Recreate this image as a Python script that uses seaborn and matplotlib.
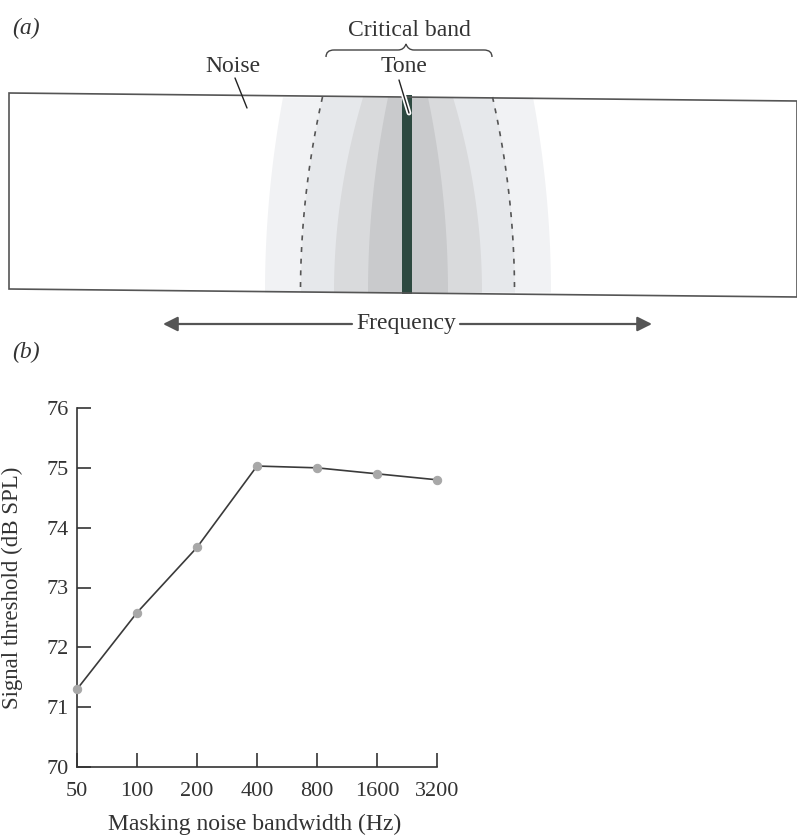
import numpy as np
import pandas as pd
import matplotlib
matplotlib.use('Agg')
from matplotlib import pyplot as plt
from matplotlib.path import Path
from matplotlib.patches import PathPatch, Polygon
import matplotlib.patheffects as pe
import seaborn as sns

# 数据 (b)
bandwidth = [50, 100, 200, 400, 800, 1600, 3200]
threshold = [71.3, 72.58, 73.67, 75.03, 75.0, 74.9, 74.8]
y_ticks = [70, 71, 72, 73, 74, 75, 76]

sns.set_style('white')
plt.rcParams['font.family'] = ['Liberation Serif', 'DejaVu Serif']
plt.rcParams['font.size'] = 17
ink = '#333333'

fig = plt.figure(figsize=(7.97, 8.39), dpi=100)

# ---------------- (a) 示意图, 像素坐标 ----------------
ax_a = fig.add_axes([0, 0, 1, 1])
ax_a.set_xlim(0, 797)
ax_a.set_ylim(839, 0)
ax_a.axis('off')

cx = 407.5
yy = np.linspace(97, 292, 120)
t = (yy - 97) / (292 - 97)


def half(w_top, w_bot):
    return w_top + (w_bot - w_top) * (1 - (1 - t) ** 2)


# 噪声带 (由外到内)
bands = [(125, 143, '#f1f2f4'), (85, 107, '#e6e8eb'), (45, 74, '#d9dadc'), (20, 40, '#c9cacc')]
for wt, wb, c in bands:
    w = half(wt, wb)
    ax_a.fill_betweenx(yy, cx - w, cx + w, color=c, lw=0)

w = half(85, 107)
ax_a.plot(cx - w, yy, ls=(0, (3, 4)), color='#555555', lw=1.2)
ax_a.plot(cx + w, yy, ls=(0, (3, 4)), color='#555555', lw=1.2)

# 纯音
ax_a.fill_betweenx([95, 294], 402.5, 412, color='#2d4940', lw=0)

# 外框 (扫描稍有倾斜)
ax_a.add_patch(Polygon([(9, 93), (797, 101), (797, 297), (9, 289)], closed=True,
                       fill=False, edgecolor='#555555', lw=1.2))

# 标注
ax_a.text(12, 28, '(a)', style='italic', ha='left', va='center', color=ink)
ax_a.text(409, 30, 'Critical band', ha='center', va='center', color=ink)
ax_a.text(233, 67, 'Noise', ha='center', va='center', color=ink)
ax_a.text(404, 67, 'Tone', ha='center', va='center', color=ink)
ax_a.plot([235, 247], [78, 108], color='#222222', lw=1)
ax_a.plot([399, 409], [80, 113], color='#222222', lw=1,
          path_effects=[pe.Stroke(linewidth=3.5, foreground='white'), pe.Normal()])

# 大括号
verts = [(326, 57), (326, 50), (334, 50), (398, 50), (404, 50), (406, 44),
         (408, 50), (414, 50), (484, 50), (492, 50), (492, 57)]
codes = [Path.MOVETO, Path.CURVE3, Path.CURVE3, Path.LINETO, Path.CURVE3, Path.CURVE3,
         Path.CURVE3, Path.CURVE3, Path.LINETO, Path.CURVE3, Path.CURVE3]
ax_a.add_patch(PathPatch(Path(verts, codes), fill=False, edgecolor='#444444', lw=1))

# Frequency 箭头
arrow_kw = dict(arrowstyle='-|>', color='#555555', lw=1.6, mutation_scale=22, shrinkA=0, shrinkB=0)
ax_a.annotate('', xy=(163, 324), xytext=(352, 324), arrowprops=arrow_kw)
ax_a.annotate('', xy=(652, 324), xytext=(460, 324), arrowprops=arrow_kw)
ax_a.text(406, 324, 'Frequency', ha='center', va='center', color=ink)

ax_a.text(12, 352, '(b)', style='italic', ha='left', va='center', color=ink)

# ---------------- (b) 折线图 ----------------
df = pd.DataFrame({'bandwidth': bandwidth, 'threshold': threshold})

ax_b = fig.add_axes([77 / 797, 1 - 767 / 839, 360 / 797, 359 / 839])
ax_b.patch.set_alpha(0)
sns.lineplot(data=df, x='bandwidth', y='threshold', ax=ax_b, color='#3a3a3a', lw=1.2,
             marker='o', markersize=6, markerfacecolor='#a8a8a8', markeredgecolor='#a8a8a8',
             clip_on=False, zorder=3)
ax_b.set_xscale('log', base=2)
ax_b.set_xlim(50, 3200)
ax_b.set_ylim(70, 76)
ax_b.set_xticks(bandwidth)
ax_b.set_xticklabels([str(b) for b in bandwidth])
ax_b.set_yticks(y_ticks)
ax_b.minorticks_off()
ax_b.tick_params(axis='both', which='major', direction='in', length=10, width=1.2,
                 colors=ink, labelsize=16, bottom=True, left=True)
ax_b.tick_params(axis='x', pad=11)
ax_b.tick_params(axis='y', pad=6)
for s in ['top', 'right']:
    ax_b.spines[s].set_visible(False)
for s in ['left', 'bottom']:
    ax_b.spines[s].set_color(ink)
    ax_b.spines[s].set_linewidth(1.2)

ax_b.set_ylabel('Signal threshold (dB SPL)', color=ink, fontsize=16.5)
ax_b.set_xlabel('Masking noise bandwidth (Hz)', color=ink, fontsize=17)
ax_b.yaxis.set_label_coords(-0.15, 0.5)
ax_b.xaxis.set_label_coords(0.494, -0.13)

plt.savefig('out.png', dpi=100)
